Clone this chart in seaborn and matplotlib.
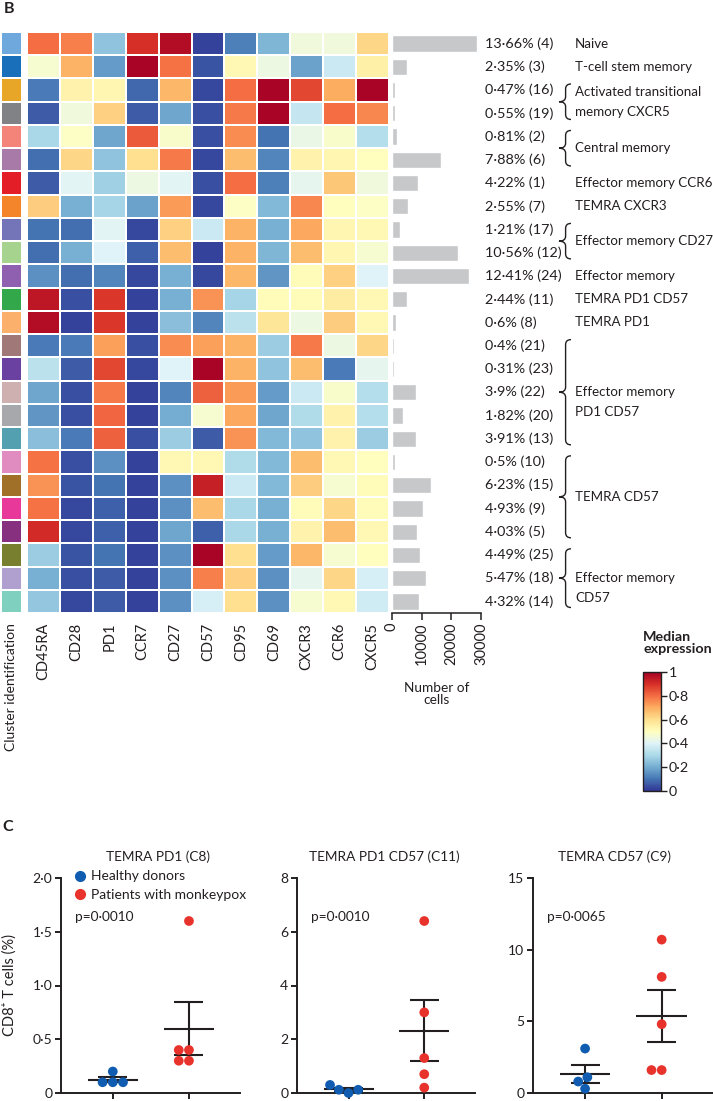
import numpy as np
import pandas as pd
import matplotlib
matplotlib.use('Agg')
import matplotlib.pyplot as plt
from matplotlib.colors import ListedColormap
from matplotlib.path import Path
from matplotlib.patches import PathPatch
from matplotlib.lines import Line2D
from matplotlib.ticker import FuncFormatter
import seaborn as sns

# ---- panel B data ----
markers = ['CD45RA', 'CD28', 'PD1', 'CCR7', 'CD27', 'CD57', 'CD95', 'CD69', 'CXCR3', 'CCR6', 'CXCR5']
cluster_ids = [4, 3, 16, 19, 2, 6, 1, 7, 17, 12, 24, 11, 8, 21, 23, 22, 20, 13, 10, 15, 9, 5, 25, 18, 14]
pct = [13.66, 2.35, 0.47, 0.55, 0.81, 7.88, 4.22, 2.55, 1.21, 10.56, 12.41, 2.44, 0.6,
       0.4, 0.31, 3.9, 1.82, 3.91, 0.5, 6.23, 4.93, 4.03, 4.49, 5.47, 4.32]
n_cells = [28640, 4930, 990, 1150, 1700, 16520, 8850, 5350, 2540, 22140, 26020, 5120, 1260,
           840, 650, 8180, 3820, 8200, 1050, 13060, 10340, 8450, 9420, 11470, 9060]
cluster_colors = ['#6fa8dc', '#1a6fba', '#e8a628', '#808285', '#f4837a', '#a87aa8', '#e41e26',
                  '#f5852a', '#7474b8', '#a6d48e', '#9060b0', '#33a84a', '#fbb06c', '#a07878',
                  '#6a40a0', '#cfb0b0', '#a7a8ab', '#52a0b0', '#e08cc0', '#a07028', '#e8389a',
                  '#883080', '#788030', '#b0a0d0', '#80d0c0']
expr = [
    [0.80, 0.77, 0.25, 0.90, 0.97, 0.02, 0.12, 0.22, 0.45, 0.45, 0.62],
    [0.47, 0.69, 0.17, 0.99, 0.79, 0.05, 0.52, 0.44, 0.18, 0.36, 0.55],
    [0.11, 0.54, 0.53, 0.08, 0.68, 0.03, 0.80, 0.99, 0.86, 0.70, 0.99],
    [0.06, 0.45, 0.63, 0.06, 0.19, 0.04, 0.78, 0.99, 0.35, 0.80, 0.76],
    [0.30, 0.49, 0.19, 0.83, 0.48, 0.04, 0.75, 0.10, 0.43, 0.48, 0.32],
    [0.09, 0.62, 0.25, 0.60, 0.78, 0.03, 0.67, 0.13, 0.54, 0.53, 0.50],
    [0.06, 0.41, 0.28, 0.44, 0.41, 0.04, 0.80, 0.12, 0.42, 0.65, 0.45],
    [0.64, 0.21, 0.29, 0.18, 0.73, 0.03, 0.49, 0.23, 0.76, 0.50, 0.49],
    [0.10, 0.09, 0.41, 0.03, 0.63, 0.36, 0.69, 0.21, 0.71, 0.53, 0.52],
    [0.09, 0.21, 0.40, 0.07, 0.67, 0.02, 0.69, 0.22, 0.67, 0.53, 0.47],
    [0.15, 0.09, 0.13, 0.03, 0.21, 0.03, 0.68, 0.16, 0.51, 0.63, 0.40],
    [0.95, 0.04, 0.89, 0.02, 0.21, 0.74, 0.29, 0.51, 0.51, 0.56, 0.52],
    [0.97, 0.02, 0.89, 0.02, 0.24, 0.13, 0.33, 0.58, 0.44, 0.64, 0.52],
    [0.11, 0.11, 0.72, 0.04, 0.75, 0.72, 0.69, 0.27, 0.78, 0.44, 0.62],
    [0.33, 0.06, 0.86, 0.03, 0.40, 0.99, 0.69, 0.25, 0.67, 0.11, 0.42],
    [0.19, 0.04, 0.78, 0.02, 0.13, 0.82, 0.73, 0.17, 0.36, 0.48, 0.32],
    [0.16, 0.04, 0.81, 0.02, 0.20, 0.47, 0.71, 0.19, 0.31, 0.54, 0.32],
    [0.24, 0.11, 0.82, 0.04, 0.27, 0.06, 0.74, 0.23, 0.25, 0.54, 0.27],
    [0.79, 0.04, 0.15, 0.02, 0.52, 0.52, 0.31, 0.23, 0.67, 0.52, 0.50],
    [0.74, 0.05, 0.10, 0.02, 0.15, 0.93, 0.36, 0.23, 0.64, 0.47, 0.51],
    [0.79, 0.03, 0.07, 0.02, 0.15, 0.67, 0.30, 0.21, 0.51, 0.62, 0.51],
    [0.91, 0.03, 0.07, 0.02, 0.19, 0.07, 0.30, 0.21, 0.54, 0.67, 0.52],
    [0.27, 0.05, 0.10, 0.02, 0.15, 0.99, 0.60, 0.17, 0.68, 0.47, 0.50],
    [0.21, 0.04, 0.06, 0.02, 0.15, 0.77, 0.63, 0.15, 0.42, 0.62, 0.38],
    [0.26, 0.03, 0.06, 0.02, 0.15, 0.38, 0.60, 0.15, 0.47, 0.52, 0.37],
]
groups = [(0, 0, ['Naive']), (1, 1, ['T-cell stem memory']),
          (2, 3, ['Activated transitional', 'memory CXCR5']), (4, 5, ['Central memory']),
          (6, 6, ['Effector memory CCR6']), (7, 7, ['TEMRA CXCR3']),
          (8, 9, ['Effector memory CD27']), (10, 10, ['Effector memory']),
          (11, 11, ['TEMRA PD1 CD57']), (12, 12, ['TEMRA PD1']),
          (13, 17, ['Effector memory', 'PD1 CD57']), (18, 21, ['TEMRA CD57']),
          (22, 24, ['Effector memory', 'CD57'])]

# ---- panel C data ----
panel_titles = ['TEMRA PD1 (C8)', 'TEMRA PD1 CD57 (C11)', 'TEMRA CD57 (C9)']
healthy = [[0.1, 0.2, 0.1, 0.1], [0.0, 0.3, 0.12, 0.12], [3.1, 1.1, 0.3, 0.8]]
patients = [[1.6, 0.4, 0.3, 0.4, 0.3], [6.4, 3.0, 1.3, 0.7, 0.2], [10.7, 8.1, 4.8, 1.6, 1.6]]
p_values = ['p=0·0010', 'p=0·0010', 'p=0·0065']
y_max = [2.0, 8, 15]
y_ticks = [[0, 0.5, 1.0, 1.5, 2.0], [0, 2, 4, 6, 8], [0, 5, 10, 15]]
group_names = ['Healthy donors', 'Patients with monkeypox']

sns.set_style('white')
plt.rcParams['font.family'] = ['Lato', 'DejaVu Sans']
plt.rcParams['font.size'] = 10
ink = '#231f20'
plt.rcParams['text.color'] = ink
plt.rcParams['axes.labelcolor'] = ink
plt.rcParams['xtick.color'] = ink
plt.rcParams['ytick.color'] = ink

W, H = 713, 1101
fig = plt.figure(figsize=(W / 100, H / 100), dpi=100)


def rect(x0, y0, x1, y1):
    return [x0 / W, 1 - y1 / H, (x1 - x0) / W, (y1 - y0) / H]


top, bottom = 32, 613
row_h = (bottom - top) / len(cluster_ids)

# cluster colour column
ax_cl = fig.add_axes(rect(1, top, 22, bottom))
sns.heatmap(np.arange(len(cluster_ids)).reshape(-1, 1), cmap=ListedColormap(cluster_colors),
            cbar=False, linewidths=1.4, linecolor='white', ax=ax_cl,
            xticklabels=['Cluster identification'], yticklabels=False)
ax_cl.tick_params(axis='x', length=0, pad=7, labelrotation=90, labelsize=10)

# expression heatmap
ax_hm = fig.add_axes(rect(27, top, 389, bottom))
cax = fig.add_axes(rect(643, 672, 661, 791))
sns.heatmap(pd.DataFrame(expr, columns=markers), cmap='RdYlBu_r', vmin=0, vmax=1,
            linewidths=1.4, linecolor='white', ax=ax_hm, cbar_ax=cax,
            xticklabels=markers, yticklabels=False)
ax_hm.tick_params(axis='x', length=0, pad=7, labelrotation=90, labelsize=10.5)
cb = ax_hm.collections[0].colorbar
cb.set_ticks([0, 0.2, 0.4, 0.6, 0.8, 1])
cb.set_ticklabels(['0', '0·2', '0·4', '0·6', '0·8', '1'])
cb.outline.set_linewidth(1.0)
cb.outline.set_edgecolor(ink)
cax.tick_params(length=4, width=1, pad=1.5, labelsize=10.3)
fig.text(643 / W, 1 - 631 / H, 'Median\nexpression', fontweight='bold', va='top', ha='left',
         linespacing=1.0, fontsize=10.3)

# number of cells bars
ax_bar = fig.add_axes(rect(392, top, 481, bottom))
bar_df = pd.DataFrame({'cluster': [str(c) for c in cluster_ids], 'cells': n_cells})
sns.barplot(data=bar_df, x='cells', y='cluster', orient='h', color='#c7c8ca', width=0.7,
            saturation=1, ax=ax_bar)
ax_bar.set_ylim(len(cluster_ids) - 0.5, -0.5)
ax_bar.set_xlim(0, 30000)
ax_bar.set_xticks([0, 10000, 20000, 30000])
ax_bar.set_xticklabels(['0', '10000', '20000', '30000'], rotation=90)
ax_bar.set_yticks([])
ax_bar.set_xlabel('')
ax_bar.set_ylabel('')
for s in ['top', 'right', 'left']:
    ax_bar.spines[s].set_visible(False)
ax_bar.spines['bottom'].set_linewidth(1.1)
ax_bar.spines['bottom'].set_color(ink)
ax_bar.tick_params(axis='x', bottom=True, direction='out', length=5, width=1.1, pad=2,
                   labelsize=10.5)
fig.text(437 / W, 1 - 694 / H, 'Number of\ncells', ha='center', va='center', linespacing=1.1,
         fontsize=9.8)

# overlay for row labels and braces
ov = fig.add_axes([0, 0, 1, 1], facecolor='none')
ov.set_xlim(0, W)
ov.set_ylim(H, 0)
ov.axis('off')

for i, (p, cid) in enumerate(zip(pct, cluster_ids)):
    yc = top + (i + 0.5) * row_h
    ov.text(485, yc, f"{str(p).replace('.', '·')}% ({cid})", ha='left', va='center',
            fontsize=10.4)


def brace(x_tip, y0, y1, w=12, r=5):
    xs = x_tip + w * 0.55
    xa = x_tip + w
    ym = (y0 + y1) / 2
    verts = [(xa, y0), (xs, y0), (xs, y0 + r), (xs, ym - r), (xs, ym), (x_tip, ym),
             (xs, ym), (xs, ym + r), (xs, y1 - r), (xs, y1), (xa, y1)]
    codes = [Path.MOVETO, Path.CURVE3, Path.CURVE3, Path.LINETO, Path.CURVE3, Path.CURVE3,
             Path.CURVE3, Path.CURVE3, Path.LINETO, Path.CURVE3, Path.CURVE3]
    ov.add_patch(PathPatch(Path(verts, codes), fc='none', ec=ink, lw=1.0))


for r0, r1, lines in groups:
    y0 = top + r0 * row_h
    y1 = top + (r1 + 1) * row_h
    mid = (y0 + y1) / 2
    nrows = r1 - r0 + 1
    if len(lines) == 1:
        first = mid
    elif nrows % 2 == 0:
        first = mid - 10
    else:
        first = mid
    for k, line in enumerate(lines):
        ov.text(575, first + 20 * k, line, ha='left', va='center', fontsize=9.6)
    if r1 > r0:
        brace(559, y0 + 5.5, y1 - 5.5)

fig.text(4 / W, 1 - 2 / H, 'B', fontweight='bold', fontsize=11.5, va='top', ha='left')
fig.text(2 / W, 1 - 820 / H, 'C', fontweight='bold', fontsize=11.5, va='top', ha='left')

# ---- panel C ----
palette = {'Healthy donors': '#0f5cb0', 'Patients with monkeypox': '#e8332c'}
panel_rects = [rect(61, 878, 240, 1093), rect(297, 878, 475, 1093), rect(533, 878, 713, 1093)]
title_x = [0.54, 0.49, 0.455]
decimals = [1, 0, 0]

for k in range(3):
    ax = fig.add_axes(panel_rects[k])
    df = pd.DataFrame({'group': [group_names[0]] * len(healthy[k]) + [group_names[1]] * len(patients[k]),
                       'value': healthy[k] + patients[k]})
    sns.swarmplot(data=df, x='group', y='value', hue='group', order=group_names, palette=palette,
                  size=7, linewidth=0, legend=False, ax=ax, zorder=3)
    for c in ax.collections:
        c.set_clip_on(False)
    for j, vals in enumerate([healthy[k], patients[k]]):
        m = np.mean(vals)
        se = np.std(vals, ddof=1) / np.sqrt(len(vals))
        ax.hlines(m, j - 0.33, j + 0.33, color=ink, lw=1.5, zorder=2)
        ax.hlines([m - se, m + se], j - 0.19, j + 0.19, color=ink, lw=1.5, zorder=2)
        ax.vlines(j, m - se, m + se, color=ink, lw=1.5, zorder=2)
    ax.set_xlim(-0.68, 1.67)
    ax.set_ylim(0, y_max[k])
    ax.set_yticks(y_ticks[k])
    d = decimals[k]
    ax.yaxis.set_major_formatter(FuncFormatter(
        lambda v, _, d=d: '0' if v == 0 else f'{v:.{d}f}'.replace('.', '·')))
    ax.set_xticks([0, 1])
    ax.set_xticklabels([])
    ax.set_xlabel('')
    ax.set_ylabel('')
    sns.despine(ax=ax)
    for s in ['left', 'bottom']:
        ax.spines[s].set_linewidth(1.4)
        ax.spines[s].set_color(ink)
    ax.tick_params(direction='out', length=4.3, width=1.4, pad=2, labelsize=10,
                   bottom=True, left=True)
    ax.text(title_x[k], 1 + 21 / 215, panel_titles[k], transform=ax.transAxes,
            ha='center', va='center', fontsize=9.8)
    ax.text(0.078, (1093 - 917) / 215, p_values[k], transform=ax.transAxes,
            ha='left', va='center', fontsize=9.8)
    if k == 0:
        ax.set_ylabel('CD8⁺ T cells (%)', fontsize=10.5)
        ax.yaxis.set_label_coords(-0.245, 0.5)
        handles = [Line2D([], [], marker='o', ls='', color=palette[g], markersize=7)
                   for g in group_names]
        ax.legend(handles, group_names, loc='upper left', bbox_to_anchor=(0.07, 1.035),
                  frameon=False, handletextpad=0.25, borderaxespad=0, borderpad=0,
                  labelspacing=0.45, handlelength=1.0, fontsize=10)

fig.savefig('out.png', dpi=100)
